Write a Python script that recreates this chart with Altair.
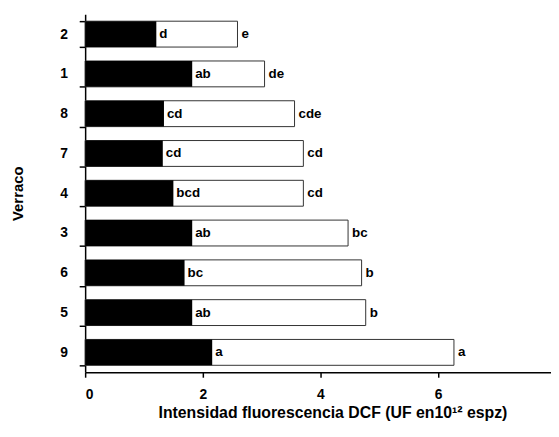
import altair as alt
import pandas as pd

verraco = ["2", "1", "8", "7", "4", "3", "6", "5", "9"]
black_vals = [1.21, 1.82, 1.34, 1.32, 1.50, 1.82, 1.69, 1.82, 2.16]
total_vals = [2.59, 3.05, 3.56, 3.71, 3.71, 4.47, 4.70, 4.77, 6.27]
letters_black = ["d", "ab", "cd", "cd", "bcd", "ab", "bc", "ab", "a"]
letters_total = ["e", "de", "cde", "cd", "cd", "bc", "b", "b", "a"]
x_ticks = [0, 2, 4, 6, 8]

df = pd.DataFrame({
    "verraco": verraco,
    "black": black_vals,
    "total": total_vals,
    "lb": letters_black,
    "lt": letters_total,
})

FONT = "Liberation Sans"

y_enc = alt.Y(
    "verraco:N",
    sort=verraco,
    title="Verraco",
    scale=alt.Scale(paddingInner=0.35, paddingOuter=0.175),
    axis=alt.Axis(
        tickBand="extent",
        labelFont=FONT, labelFontSize=14, labelFontWeight="bold", labelColor="black",
        labelPadding=12, tickSize=6, tickWidth=1.5, tickColor="black",
        domainColor="black", domainWidth=1.5,
        titleFont=FONT, titleFontSize=15, titleFontWeight="bold", titleColor="black",
        titlePadding=35,
    ),
)

x_scale = alt.Scale(domain=[0, 7.92], nice=False, zero=True)
x_axis = alt.Axis(
    values=x_ticks, grid=False, format="d",
    labelFont=FONT, labelFontSize=14, labelFontWeight="bold", labelColor="black",
    labelPadding=11, tickSize=5, tickWidth=1.5, tickColor="black",
    domainColor="black", domainWidth=1.5,
    titleFont=FONT, titleFontSize=16, titleFontWeight="bold", titleColor="black",
    titleX=250, titleY=46, titleBaseline="alphabetic", titleAnchor="middle",
)

base = alt.Chart(df)

white_bars = base.mark_bar(color="white", stroke="#333333", strokeWidth=1).encode(
    x=alt.X("total:Q", scale=x_scale, axis=x_axis,
            title="Intensidad fluorescencia DCF (UF en10¹² espz)"),
    y=y_enc,
)
black_bars = base.mark_bar(color="black").encode(
    x=alt.X("black:Q", scale=x_scale),
    y=alt.Y("verraco:N", sort=verraco),
)
text_black = base.mark_text(align="left", baseline="middle", dx=3, font=FONT,
                            fontSize=13.5, fontWeight="bold", color="black").encode(
    x=alt.X("black:Q", scale=x_scale),
    y=alt.Y("verraco:N", sort=verraco),
    text="lb:N",
)
text_total = base.mark_text(align="left", baseline="middle", dx=4, font=FONT,
                            fontSize=13.5, fontWeight="bold", color="black").encode(
    x=alt.X("total:Q", scale=x_scale),
    y=alt.Y("verraco:N", sort=verraco),
    text="lt:N",
)

chart = alt.layer(white_bars, black_bars, text_black, text_total).properties(
    width=471, height=362,
    autosize=alt.AutoSizeParams(type="none"),
    padding={"left": 78, "top": 4, "right": 0, "bottom": 50},
    background="white",
).configure_view(strokeWidth=0, stroke="white")

chart.save("out.html", embed_options={"renderer": "svg", "actions": False})
